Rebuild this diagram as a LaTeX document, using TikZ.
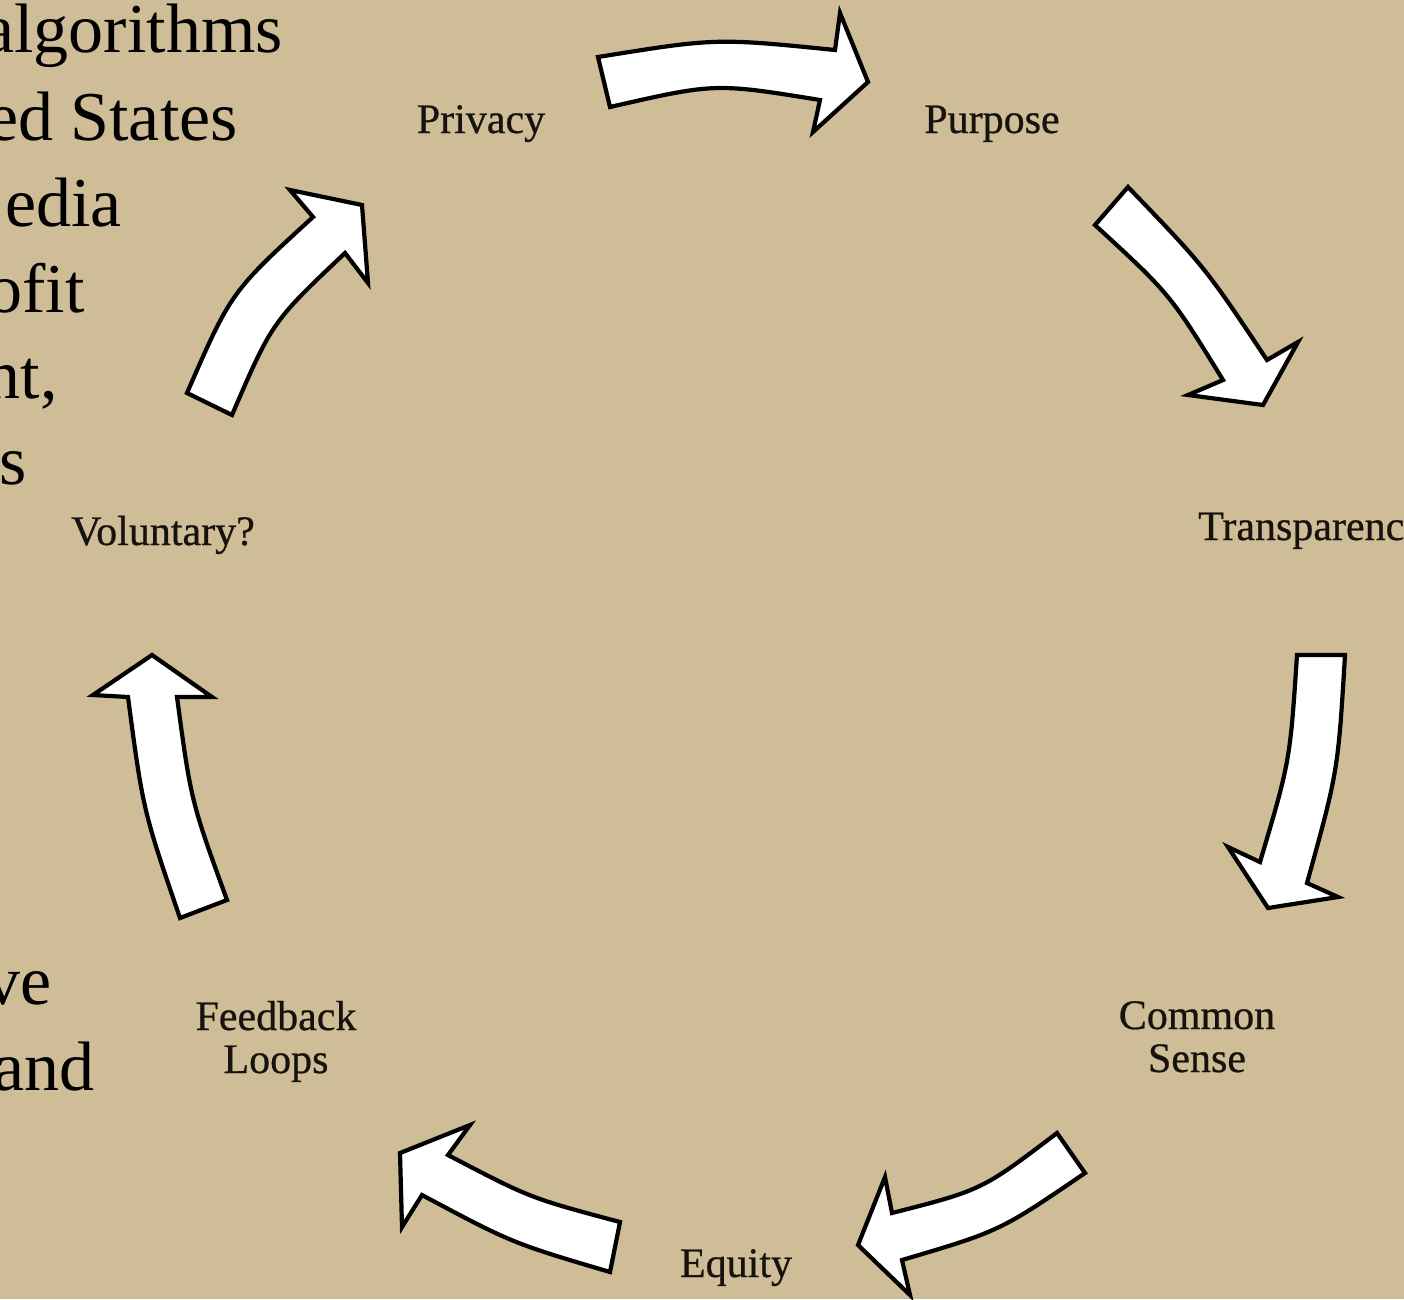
\documentclass[tikz,border=0pt]{standalone}
\usepackage{fontspec}
\setmainfont{Liberation Serif}
\newfontfamily\lblfont[FakeBold=0.6]{Liberation Serif}
\definecolor{bgtan}{RGB}{206,189,150}
\definecolor{inkc}{RGB}{22,18,14}
\tikzset{
  blockarrow/.style={draw=black, fill=white, line width=4.2pt, line join=miter, miter limit=6},
  lbl/.style={font=\lblfont\fontsize{42}{44}\selectfont, text=inkc, inner sep=0pt},
  lbltwo/.style={font=\lblfont\fontsize{42}{43}\selectfont, text=inkc, inner sep=0pt, align=center},
  bigtxt/.style={font=\fontsize{70}{72}\selectfont, text=black, inner sep=0pt, anchor=base east}
}
\begin{document}
\begin{tikzpicture}[x=1pt,y=-1pt]
\useasboundingbox (0,0) rectangle (1404,1299);
\clip (0,0) rectangle (1404,1299);
\fill[bgtan] (0,0) rectangle (1404,1299);

% cut-off body text at the left edge
\node[bigtxt] (t1) at (283,52) {algorithms};
\node[bigtxt] (t2) at (238,140) {ed States};
\node[bigtxt] (t3) at (122,226) {edia};
\node[bigtxt] (t4) at (85,312) {ofit};
\node[bigtxt] (t5) at (58,398) {nt,};
\node[bigtxt] (t6) at (27,484) {as};
\node[bigtxt] (t7) at (52,1004) {ve};
\node[bigtxt] (t8) at (95,1090) {and};

% labels
\node[lbl, anchor=base] (privacy) at (481,133) {Privacy};
\node[lbl, anchor=base] (purpose) at (992,133) {Purpose};
\node[lbl, anchor=base west] (transparency) at (1198,540) {Transparency};
\node[lbltwo, anchor=base] (common) at (1197,1072) {Common\\Sense};
\node[lbl, anchor=base] (equity) at (736,1277) {Equity};
\node[lbltwo, anchor=base] (feedback) at (276,1073) {Feedback\\Loops};
\node[lbl, anchor=base] (voluntary) at (163,545) {Voluntary?};

% block arrows
% Privacy -> Purpose
\draw[blockarrow] (598,57) -- (610,107) .. controls (715,83) .. (820,100)
  -- (813,132) -- (868,82) -- (840,13) -- (835,50)
  .. controls (716,38) .. (598,57) -- cycle;
% Purpose -> Transparency
\draw[blockarrow] (1128,187) -- (1095,225) .. controls (1170,294) .. (1223,380)
  -- (1188,395) -- (1263,405) -- (1298,342) -- (1267,360)
  .. controls (1205,267) .. (1128,187) -- cycle;
% Transparency -> Common Sense
\draw[blockarrow] (1345,655) -- (1297,655) .. controls (1290,761) .. (1260,862)
  -- (1228,847) -- (1268,908) -- (1338,897) -- (1307,883)
  .. controls (1338,771) .. (1345,655) -- cycle;
% Common Sense -> Equity
\draw[blockarrow] (1085,1173) -- (1057,1133) .. controls (982,1190) .. (892,1213)
  -- (885,1177) -- (858,1245) -- (910,1295) -- (902,1260)
  .. controls (1000,1231) .. (1085,1173) -- cycle;
% Equity -> Feedback Loops
\draw[blockarrow] (620,1222) -- (610,1272) .. controls (512,1243) .. (422,1195)
  -- (402,1227) -- (400,1153) -- (470,1125) -- (448,1155)
  .. controls (530,1198) .. (620,1222) -- cycle;
% Feedback Loops -> Voluntary?
\draw[blockarrow] (180,918) -- (227,900) .. controls (191,801) .. (177,697)
  -- (212,697) -- (152,655) -- (93,695) -- (128,697)
  .. controls (143,810) .. (180,918) -- cycle;
% Voluntary? -> Privacy
\draw[blockarrow] (187,393) -- (232,415) .. controls (272,322) .. (345,253)
  -- (368,283) -- (362,205) -- (290,190) -- (313,217)
  .. controls (231,292) .. (187,393) -- cycle;
\end{tikzpicture}
\end{document}
